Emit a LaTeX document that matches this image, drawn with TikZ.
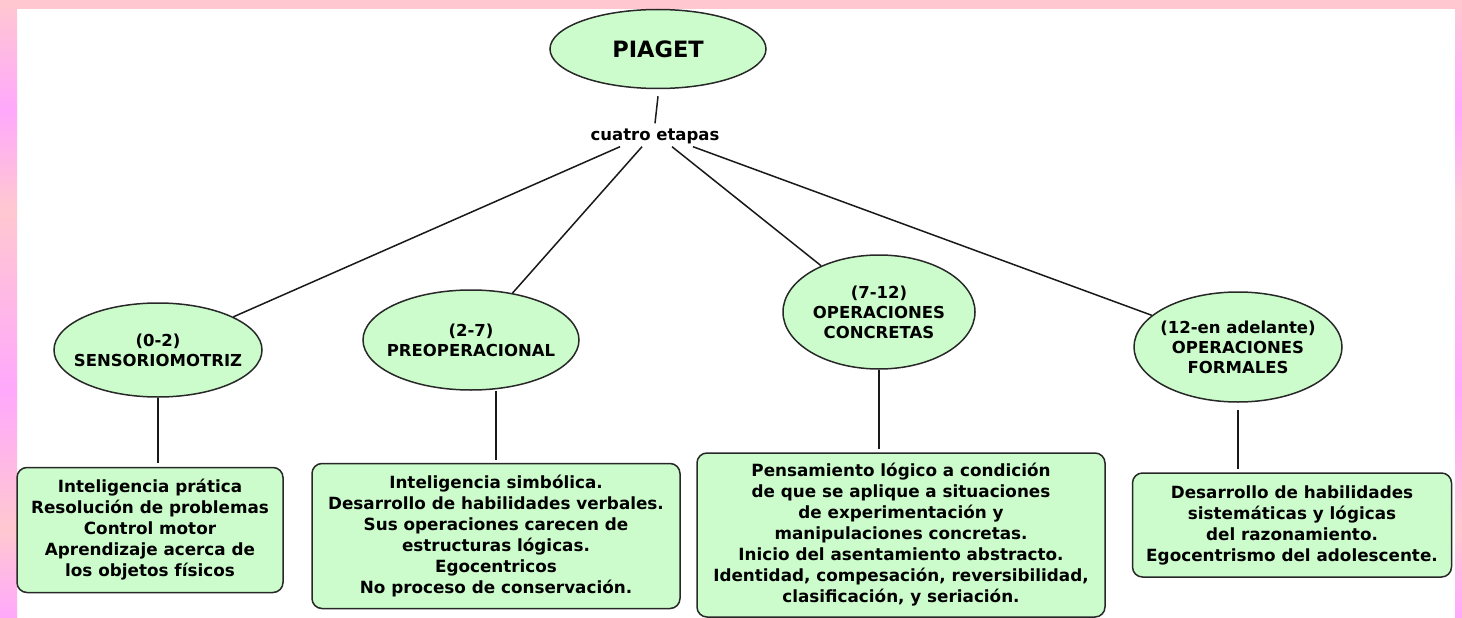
\documentclass[tikz,border=0pt]{standalone}
\usepackage{fontspec}
\setmainfont{DejaVu Sans}
\usetikzlibrary{shapes.geometric}
\definecolor{verde}{RGB}{204,252,204}
\definecolor{borde}{RGB}{40,40,40}
\definecolor{rosa}{RGB}{255,200,208}
\definecolor{lila}{RGB}{255,168,252}
\tikzset{
  etapa/.style = {ellipse, draw = borde, fill = verde, line width = 1.5pt, inner sep = 0pt},
  rotulo/.style = {align = center, inner sep = 0pt, font = \bfseries\fontsize{16.5}{20}\selectfont},
  caja/.style = {rectangle, rounded corners = 10pt, draw = borde, fill = verde, line width = 1.5pt,
                 inner sep = 0pt, align = center, font = \bfseries\fontsize{16.8}{21}\selectfont},
  linea/.style = {line width = 1.5pt, black!90}
}
\begin{document}
\begin{tikzpicture}[x = 1pt, y = -1pt]
	\useasboundingbox (0,0) rectangle (1462,618);
	% marco
	\fill[white] (0,0) rectangle (1462,618);
	\foreach \a/\b/\ca/\cb in {0/110/rosa/lila, 110/210/lila/rosa, 210/390/rosa/lila, 390/530/lila/rosa, 530/618/rosa/lila}{
		\shade[top color = \ca, bottom color = \cb] (0,\a) rectangle (17,\b);
		\shade[top color = \ca, bottom color = \cb] (1455,\a) rectangle (1462,\b);
	}
	\fill[rosa] (0,0) rectangle (1462,9);
	% nodos
	\node[etapa, minimum width = 216pt, minimum height = 79pt, font = \bfseries\fontsize{22.5}{26}\selectfont] (piaget) at (658,49) {PIAGET};
	\node[inner sep = 3pt, font = \bfseries\fontsize{16.5}{20}\selectfont] (etapas) at (655,136) {cuatro etapas};
	\node[etapa, minimum width = 208pt, minimum height = 94pt] (sensorio) at (158,350) {};
	\node[rotulo] (sensorio-t) at (sensorio) {(0-2)\\SENSORIOMOTRIZ};
	\node[etapa, minimum width = 216pt, minimum height = 100pt] (preop) at (471,340) {};
	\node[rotulo] (preop-t) at (preop) {(2-7)\\PREOPERACIONAL};
	\node[etapa, minimum width = 192pt, minimum height = 114pt] (concretas) at (879,312) {};
	\node[rotulo] (concretas-t) at (concretas) {(7-12)\\OPERACIONES\\CONCRETAS};
	\node[etapa, minimum width = 208pt, minimum height = 110pt] (formales) at (1238,347) {};
	\node[rotulo] (formales-t) at (formales) {(12-en adelante)\\OPERACIONES\\FORMALES};
	\node[caja, minimum width = 266pt, minimum height = 125pt] (practica) at (150,530) {Inteligencia prática\\Resolución de problemas\\Control motor\\Aprendizaje acerca de\\los objetos físicos};
	\node[caja, minimum width = 368pt, minimum height = 145pt] (simbolica) at (496,536) {Inteligencia simbólica.\\Desarrollo de habilidades verbales.\\Sus operaciones carecen de\\estructuras lógicas.\\Egocentricos\\No proceso de conservación.};
	\node[caja, minimum width = 408pt, minimum height = 164pt] (logico) at (901,535) {Pensamiento lógico a condición\\de que se aplique a situaciones\\de experimentación y\\manipulaciones concretas.\\Inicio del asentamiento abstracto.\\Identidad, compesación, reversibilidad,\\clasificación, y seriación.};
	\node[caja, minimum width = 319pt, minimum height = 104pt] (formal) at (1292,525) {Desarrollo de habilidades\\sistemáticas y lógicas\\del razonamiento.\\Egocentrismo del adolescente.};
	% lineas
	\draw[linea] ([yshift = -7pt]piaget.south) -- ([yshift = 2pt]etapas.north);
	\draw[linea] ([xshift = -35pt]etapas.south) -- (sensorio);
	\draw[linea] ([xshift = -13pt]etapas.south) -- (preop);
	\draw[linea] ([xshift = 17pt]etapas.south) -- (concretas);
	\draw[linea] ([xshift = 38pt]etapas.south) -- (formales);
	\draw[linea, shorten > = 4pt] (sensorio.south) -- (sensorio.south |- practica.north);
	\draw[linea, shorten > = 3pt] (simbolica.north |- preop.south) -- (simbolica.north);
	\draw[linea, shorten > = 3pt] (concretas.south) -- (concretas.south |- logico.north);
	\draw[linea, shorten < = 7pt, shorten > = 3pt] (formales.south) -- (formales.south |- formal.north);
\end{tikzpicture}
\end{document}
